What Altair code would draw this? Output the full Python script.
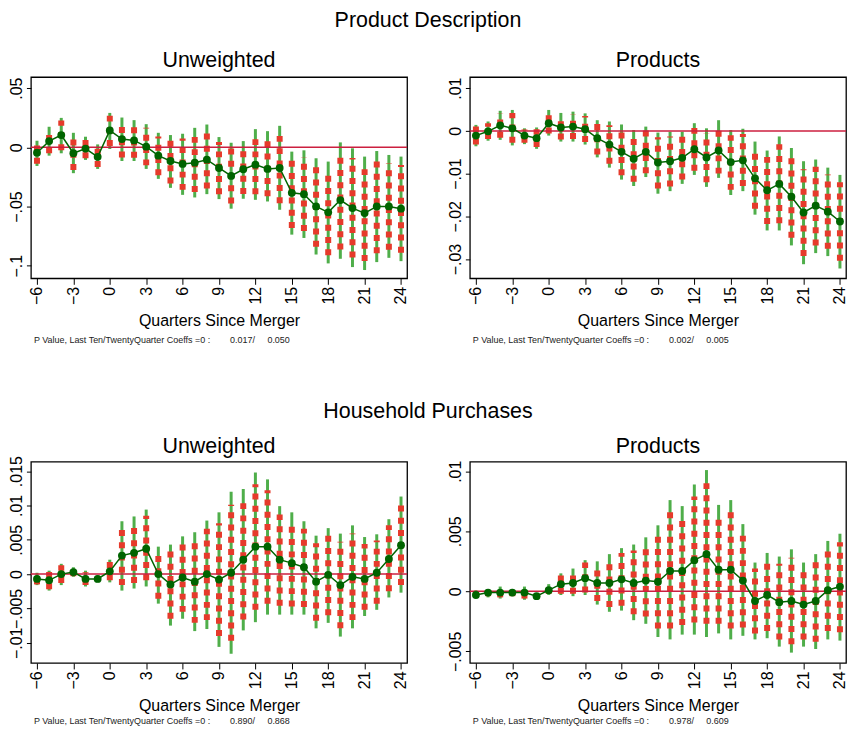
import altair as alt
import pandas as pd

FONT = "Liberation Sans"
GREEN = "#4fae4a"
RED = "#e63a2b"
ZERO = "#cc1f3f"
DKGREEN = "#006400"

quarters = [-6, -5, -4, -3, -2, -1, 0, 1, 2, 3, 4, 5, 6, 7, 8, 9, 10, 11, 12,
            13, 14, 15, 16, 17, 18, 19, 20, 21, 22, 23, 24]
xticks = [-6, -3, 0, 3, 6, 9, 12, 15, 18, 21, 24]

# ---- Product Description / Unweighted
p1_est = [-0.0045, 0.0053, 0.0104, -0.0050, -0.0010, -0.0080, 0.0143, 0.0070, 0.0059, 0.0006, -0.0070,
          -0.0115, -0.0140, -0.0129, -0.0104, -0.0174, -0.0241, -0.0185, -0.0146, -0.0182, -0.0174,
          -0.0384, -0.0395, -0.0499, -0.0549, -0.0445, -0.0513, -0.0555, -0.0499, -0.0499, -0.0518]
p1_lo95 = [-0.0157, -0.0070, -0.0050, -0.0218, -0.0106, -0.0182, -0.0014, -0.0115, -0.0115, -0.0182, -0.0266,
           -0.0342, -0.0401, -0.0423, -0.0395, -0.0437, -0.0518, -0.0434, -0.0443, -0.0457, -0.0527,
           -0.0737, -0.0765, -0.0905, -0.0980, -0.0941, -0.1011, -0.1036, -0.0969, -0.0933, -0.0961]
p1_hi95 = [0.0056, 0.0174, 0.0249, 0.0123, 0.0090, 0.0025, 0.0291, 0.0252, 0.0230, 0.0196, 0.0123,
           0.0104, 0.0115, 0.0165, 0.0193, 0.0087, 0.0039, 0.0053, 0.0154, 0.0137, 0.0182,
           -0.0036, -0.0025, -0.0092, -0.0120, 0.0042, -0.0008, -0.0078, -0.0031, -0.0064, -0.0078]
p1_lo90 = [-0.0139, -0.0050, -0.0025, -0.0191, -0.0091, -0.0166, 0.0011, -0.0085, -0.0087, -0.0152, -0.0235,
           -0.0306, -0.0359, -0.0376, -0.0348, -0.0395, -0.0474, -0.0394, -0.0395, -0.0413, -0.0471,
           -0.0681, -0.0706, -0.0840, -0.0911, -0.0862, -0.0931, -0.0959, -0.0894, -0.0864, -0.0890]
p1_hi90 = [0.0040, 0.0155, 0.0226, 0.0095, 0.0074, 0.0008, 0.0267, 0.0223, 0.0203, 0.0166, 0.0092,
           0.0069, 0.0074, 0.0118, 0.0145, 0.0045, -0.0006, 0.0015, 0.0106, 0.0086, 0.0125,
           -0.0092, -0.0084, -0.0157, -0.0189, -0.0036, -0.0089, -0.0154, -0.0106, -0.0134, -0.0148]

# ---- Product Description / Products
p2_est = [-0.0011, -0.0001, 0.0013, 0.0006, -0.0011, -0.0017, 0.0018, 0.0008, 0.0010, 0.0004, -0.0017,
          -0.0032, -0.0049, -0.0065, -0.0049, -0.0074, -0.0071, -0.0063, -0.0043, -0.0062, -0.0046,
          -0.0073, -0.0069, -0.0111, -0.0139, -0.0124, -0.0154, -0.0191, -0.0175, -0.0189, -0.0212]
p2_lo95 = [-0.0036, -0.0023, -0.0021, -0.0034, -0.0031, -0.0042, -0.0011, -0.0025, -0.0025, -0.0032, -0.0062,
           -0.0086, -0.0114, -0.0129, -0.0108, -0.0147, -0.0141, -0.0124, -0.0103, -0.0131, -0.0110,
           -0.0150, -0.0141, -0.0196, -0.0233, -0.0233, -0.0268, -0.0312, -0.0286, -0.0293, -0.0322]
p2_hi95 = [0.0014, 0.0022, 0.0047, 0.0049, 0.0006, 0.0008, 0.0049, 0.0042, 0.0045, 0.0041, 0.0025,
           0.0022, 0.0015, 0.0002, 0.0010, -0.0004, -0.0002, -0.0002, 0.0018, 0.0006, 0.0025,
           0.0002, 0.0005, -0.0025, -0.0046, -0.0013, -0.0040, -0.0071, -0.0067, -0.0086, -0.0103]
p2_lo90 = [-0.0032, -0.0019, -0.0016, -0.0028, -0.0028, -0.0038, -0.0006, -0.0020, -0.0019, -0.0026, -0.0055,
           -0.0077, -0.0104, -0.0119, -0.0099, -0.0135, -0.0130, -0.0114, -0.0093, -0.0120, -0.0100,
           -0.0138, -0.0129, -0.0182, -0.0218, -0.0216, -0.0250, -0.0293, -0.0268, -0.0276, -0.0304]
p2_hi90 = [0.0010, 0.0018, 0.0042, 0.0042, 0.0003, 0.0004, 0.0044, 0.0037, 0.0039, 0.0035, 0.0018,
           0.0013, 0.0005, -0.0009, 0.0001, -0.0015, -0.0013, -0.0012, 0.0008, -0.0005, 0.0014,
           -0.0010, -0.0007, -0.0039, -0.0061, -0.0031, -0.0058, -0.0090, -0.0084, -0.0102, -0.0120]

# ---- Household Purchases / Unweighted
p3_est = [-0.0007, -0.0009, 0.0000, 0.0003, -0.0007, -0.0007, 0.0004, 0.0027, 0.0031, 0.0037, 0.0000,
          -0.0015, -0.0005, -0.0011, 0.0000, -0.0008, 0.0002, 0.0021, 0.0040, 0.0040, 0.0021,
          0.0016, 0.0010, -0.0011, -0.0001, -0.0016, -0.0004, -0.0007, 0.0002, 0.0022, 0.0042]
p3_lo95 = [-0.0016, -0.0024, -0.0016, -0.0004, -0.0018, -0.0012, -0.0012, -0.0024, -0.0021, -0.0018, -0.0043,
           -0.0075, -0.0065, -0.0083, -0.0080, -0.0106, -0.0116, -0.0082, -0.0070, -0.0059, -0.0059,
           -0.0059, -0.0059, -0.0079, -0.0071, -0.0091, -0.0079, -0.0061, -0.0052, -0.0034, -0.0027]
p3_hi95 = [0.0002, 0.0005, 0.0015, 0.0010, 0.0005, -0.0002, 0.0021, 0.0077, 0.0084, 0.0094, 0.0040,
           0.0043, 0.0055, 0.0061, 0.0078, 0.0090, 0.0120, 0.0124, 0.0148, 0.0138, 0.0099,
           0.0090, 0.0077, 0.0056, 0.0067, 0.0059, 0.0071, 0.0054, 0.0058, 0.0080, 0.0113]
p3_lo90 = [-0.0015, -0.0022, -0.0013, -0.0003, -0.0016, -0.0010, -0.0009, -0.0016, -0.0013, -0.0009, -0.0036,
           -0.0065, -0.0055, -0.0071, -0.0067, -0.0090, -0.0097, -0.0066, -0.0052, -0.0043, -0.0046,
           -0.0047, -0.0048, -0.0068, -0.0060, -0.0079, -0.0067, -0.0052, -0.0043, -0.0025, -0.0016]
p3_hi90 = [0.0001, 0.0003, 0.0013, 0.0009, 0.0003, -0.0004, 0.0018, 0.0069, 0.0076, 0.0085, 0.0034,
           0.0034, 0.0045, 0.0049, 0.0066, 0.0074, 0.0101, 0.0108, 0.0131, 0.0122, 0.0087,
           0.0078, 0.0066, 0.0045, 0.0056, 0.0047, 0.0059, 0.0044, 0.0049, 0.0071, 0.0102]

# ---- Household Purchases / Products
p4_est = [-0.0003, -0.0001, -0.0001, -0.0001, -0.0001, -0.0004, 0.0001, 0.0006, 0.0007, 0.0011, 0.0007,
          0.0007, 0.0010, 0.0007, 0.0009, 0.0008, 0.0017, 0.0017, 0.0026, 0.0031, 0.0018,
          0.0018, 0.0009, -0.0008, -0.0003, -0.0009, -0.0008, -0.0011, -0.0008, 0.0001, 0.0004]
p4_lo95 = [-0.0005, -0.0005, -0.0006, -0.0004, -0.0007, -0.0006, -0.0003, -0.0003, -0.0004, -0.0003, -0.0011,
           -0.0017, -0.0016, -0.0024, -0.0027, -0.0038, -0.0040, -0.0036, -0.0036, -0.0038, -0.0035,
           -0.0040, -0.0037, -0.0040, -0.0039, -0.0046, -0.0051, -0.0046, -0.0048, -0.0040, -0.0041]
p4_hi95 = [0.0001, 0.0001, 0.0004, 0.0002, 0.0004, -0.0002, 0.0006, 0.0015, 0.0019, 0.0026, 0.0025,
           0.0031, 0.0036, 0.0039, 0.0045, 0.0055, 0.0076, 0.0071, 0.0089, 0.0101, 0.0072,
           0.0076, 0.0056, 0.0024, 0.0032, 0.0029, 0.0035, 0.0024, 0.0031, 0.0042, 0.0048]
p4_lo90 = [-0.0005, -0.0004, -0.0005, -0.0004, -0.0006, -0.0006, -0.0002, -0.0002, -0.0002, -0.0001, -0.0008,
           -0.0013, -0.0012, -0.0019, -0.0021, -0.0031, -0.0031, -0.0028, -0.0026, -0.0027, -0.0027,
           -0.0031, -0.0030, -0.0035, -0.0033, -0.0040, -0.0044, -0.0040, -0.0042, -0.0033, -0.0034]
p4_hi90 = [0.0000, 0.0001, 0.0003, 0.0002, 0.0003, -0.0002, 0.0005, 0.0014, 0.0017, 0.0024, 0.0022,
           0.0027, 0.0032, 0.0034, 0.0039, 0.0047, 0.0067, 0.0062, 0.0079, 0.0090, 0.0063,
           0.0067, 0.0048, 0.0019, 0.0026, 0.0023, 0.0028, 0.0018, 0.0025, 0.0035, 0.0041]

y_domains = [[-0.1106, 0.0594], [-0.0345, 0.0126], [-0.01294, 0.01638], [-0.00596, 0.0108]]
y_ticks = [[-0.1, -0.05, 0, 0.05], [-0.03, -0.02, -0.01, 0, 0.01],
           [-0.01, -0.005, 0, 0.005, 0.01, 0.015], [-0.005, 0, 0.005, 0.01]]
panel_titles = ["Unweighted", "Products", "Unweighted", "Products"]
row_titles = ["Product Description", "Household Purchases"]
NB = "\u00a0"
pvals = [("0.017", "0.050"), ("0.002", "0.005"), ("0.890", "0.868"), ("0.978", "0.609")]
notes = ["P Value, Last Ten/TwentyQuarter Coeffs =0 :" + NB * 8 + a + "/" + NB * 5 + b for a, b in pvals]

W, H = 377.5, 202
YEXT = 22
LABEL_EXPR = "datum.value == 0 ? '0' : replace(format(datum.value, '~g'), '0.', '.')"


def panel(i, title_y, note_y, ptitle_y, row_title=None, row_title_y=0, anchor=False):
    est, lo95, hi95, lo90, hi90 = [
        [p1_est, p1_lo95, p1_hi95, p1_lo90, p1_hi90],
        [p2_est, p2_lo95, p2_hi95, p2_lo90, p2_hi90],
        [p3_est, p3_lo95, p3_hi95, p3_lo90, p3_hi90],
        [p4_est, p4_lo95, p4_hi95, p4_lo90, p4_hi90]][i]
    df = pd.DataFrame({"q": quarters, "est": est, "lo95": lo95, "hi95": hi95,
                       "lo90": lo90, "hi90": hi90})
    xs = alt.Scale(domain=[-6.5, 24.5], nice=False, zero=False)
    ys = alt.Scale(domain=y_domains[i], nice=False, zero=False)
    xax = alt.Axis(values=xticks, format="d", labelAngle=-90, labelFlush=False,
                   labelPadding=2, tickSize=6, labelOverlap=False,
                   titleY=title_y, titleBaseline="alphabetic", titleFontSize=16,
                   titleFontWeight="normal")
    yax = alt.Axis(values=y_ticks[i], labelExpr=LABEL_EXPR, labelAngle=-90, labelFlush=False,
                   labelOverlap=False, labelPadding=1.5, tickSize=4.5,
                   minExtent=YEXT, maxExtent=YEXT)

    def X():
        return alt.X("q:Q", scale=xs, axis=xax, title="Quarters Since Merger")

    def Y(f):
        return alt.Y(f"{f}:Q", scale=ys, axis=yax, title=None)

    base = alt.Chart(df)
    layers = [
        base.mark_rule(color=GREEN, strokeWidth=3).encode(x=X(), y=Y("lo95"), y2="hi95:Q"),
        base.mark_rule(color=RED, strokeWidth=6, strokeDash=[6, 6.3], strokeCap="butt").encode(
            x=X(), y=Y("lo90"), y2="hi90:Q"),
        alt.Chart(pd.DataFrame({"z": [0.0]})).mark_rule(color=ZERO, strokeWidth=1.5).encode(y=Y("z")),
        base.mark_line(color=DKGREEN, strokeWidth=1.5).encode(x=X(), y=Y("est")),
        base.mark_circle(color=DKGREEN, size=62, opacity=1).encode(x=X(), y=Y("est")),
        alt.Chart(pd.DataFrame({"t": [panel_titles[i]]})).mark_text(
            fontSize=21.5, font=FONT, align="center", baseline="alphabetic", color="black").encode(
            text="t:N", x=alt.value(W / 2), y=alt.value(ptitle_y)),
        alt.Chart(pd.DataFrame({"t": [notes[i]]})).mark_text(
            fontSize=9, font=FONT, align="left", baseline="alphabetic", color="#222222").encode(
            text="t:N", x=alt.value(3), y=alt.value(note_y)),
    ]
    if row_title is not None:
        layers.append(alt.Chart(pd.DataFrame({"t": [row_title]})).mark_text(
            fontSize=21.5, font=FONT, align="center", baseline="alphabetic", color="black").encode(
            text="t:N", x=alt.value(398.5), y=alt.value(row_title_y)))
    if anchor:
        # invisible anchor fixing the figure's top-left corner
        layers.append(alt.Chart(pd.DataFrame({"a": [0]})).mark_rule(
            strokeWidth=1, opacity=0, color="white").encode(
            x=alt.value(-YEXT + 0.5), x2=alt.value(-YEXT + 0.5), y=alt.value(-66.5), y2=alt.value(-60)))
    return alt.layer(*layers).properties(width=W, height=H)


p1 = panel(0, 47.3, 267, -10, row_titles[0], -50, anchor=True)
p2 = panel(1, 47.3, 267, -10)
p3 = panel(2, 47.5, 263, -9, row_titles[1], -44)
p4 = panel(3, 47.5, 263, -9)

chart = alt.concat(p1, p2, p3, p4, columns=2, bounds="flush",
                   spacing={"row": 184, "column": 62.5}).properties(
    padding=0, background="white"
).configure_view(
    stroke="black", strokeWidth=1.3
).configure_axis(
    grid=False, domain=False, tickColor="black", tickWidth=1,
    labelFont=FONT, labelFontSize=16, labelColor="black",
    titleFont=FONT, titleColor="black"
)

chart.save("out.html", embed_options={"renderer": "svg", "actions": False})
